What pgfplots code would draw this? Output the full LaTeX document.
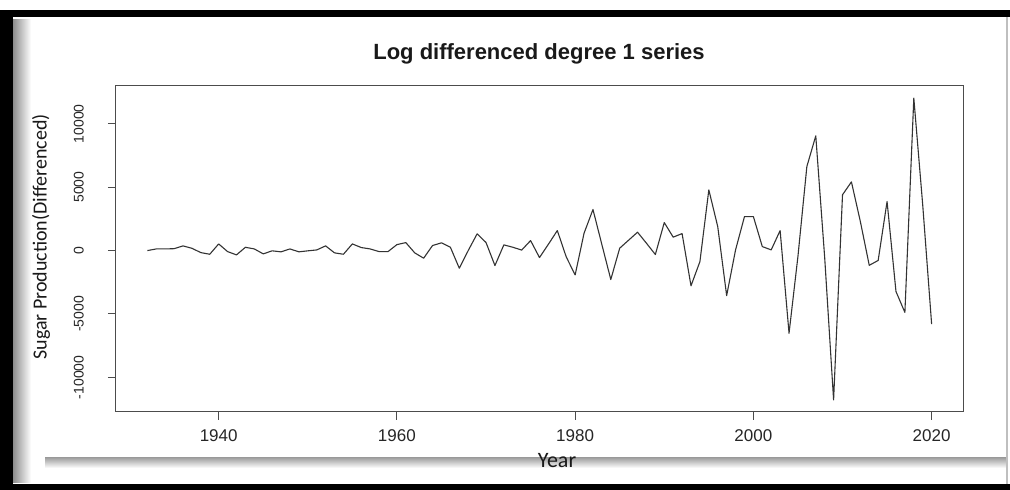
\documentclass[border=0pt]{standalone}
\usepackage{pgfplots}
\pgfplotsset{compat=1.18}
\usepackage{fontspec}
\setmainfont{Liberation Sans}
\newfontfamily\calibri{Carlito}
\begin{document}
\begin{tikzpicture}[x=1pt,y=1pt]
\useasboundingbox (0,0) rectangle (1010,490);
\fill[white] (0,0) rectangle (1010,490);
% frame and shadows
\shade[left color=black!45, right color=white] (13,7) rectangle (31,470);
\shade[top color=black!40, bottom color=white] (45,22) rectangle (1006,33);
\fill[white] (31,33) rectangle (1006,473);
\fill[black] (0,473) rectangle (1010,480);
\fill[black] (0,0) rectangle (13,480);
\fill[black] (0,0) rectangle (1010,6);
\fill[black!25] (1006,6) rectangle (1008,473);
\begin{axis}[
  at={(116pt,78pt)}, anchor=south west,
  width=847pt, height=326pt, scale only axis,
  xmin=1928.48, xmax=2023.52,
  ymin=-12732, ymax=12982,
  scaled y ticks=false, scaled x ticks=false,
  axis line style={black!70, line width=1pt},
  xtick={1940,1960,1980,2000,2020},
  xticklabels={1940,1960,1980,2000,2020},
  ytick={-10000,-5000,0,5000,10000},
  yticklabels={-10000,-5000,0,5000,10000},
  tick align=outside,
  major tick length=8pt,
  tick style={black!70, line width=1pt},
  xtick pos=bottom, ytick pos=left,
  xticklabel style={font=\fontsize{17}{20}\selectfont, text=black!85, inner sep=0pt, anchor=north, yshift=-9pt},
  yticklabel style={font=\fontsize{14}{17}\selectfont, text=black!85, inner sep=0pt, xshift=-24pt, rotate=90, anchor=south},
  clip=false,
]
\addplot[black!80, line width=1.1pt, line join=round] coordinates {
(1932,0) (1933,130) (1934,130) (1935,150) (1936,370) (1937,180) (1938,-160) (1939,-290)
(1940,525) (1941,-80) (1942,-340) (1943,260) (1944,130) (1945,-260) (1946,-20) (1947,-100)
(1948,130) (1949,-100) (1950,-20) (1951,50) (1952,370) (1953,-180) (1954,-290) (1955,525)
(1956,240) (1957,130) (1958,-80) (1959,-80) (1960,470) (1961,630) (1962,-180) (1963,-600)
(1964,400) (1965,610) (1966,265) (1967,-1390) (1968,0) (1969,1320) (1970,635) (1971,-1180)
(1972,450) (1973,265) (1974,40) (1975,790) (1976,-550) (1977,500) (1978,1580) (1979,-500)
(1980,-1920) (1981,1370) (1982,3240) (1983,470) (1984,-2280) (1985,190) (1986,820) (1987,1450)
(1988,580) (1989,-310) (1990,2210) (1991,1060) (1992,1340) (1993,-2780) (1994,-870) (1995,4790)
(1996,1890) (1997,-3550) (1998,55) (1999,2680) (2000,2680) (2001,315) (2002,55) (2003,1580)
(2004,-6520) (2005,-450) (2006,6630) (2007,9050) (2008,-550) (2009,-11780) (2010,4400) (2011,5420)
(2012,2300) (2013,-1160) (2014,-780) (2015,3870) (2016,-3230) (2017,-4880) (2018,12030) (2019,3600)
(2020,-5800)
};
\end{axis}
\node[font=\bfseries\fontsize{22}{26}\selectfont, text=black!90, anchor=base] at (539,430) {Log differenced degree 1 series};
\node[font=\calibri\fontsize{20}{24}\selectfont, rotate=90, text=black!90] at (41,253) {Sugar Production(Differenced)};
\node[font=\calibri\fontsize{22}{26}\selectfont, text=black!90, anchor=base] at (557,22) {Year};
\end{tikzpicture}
\end{document}
